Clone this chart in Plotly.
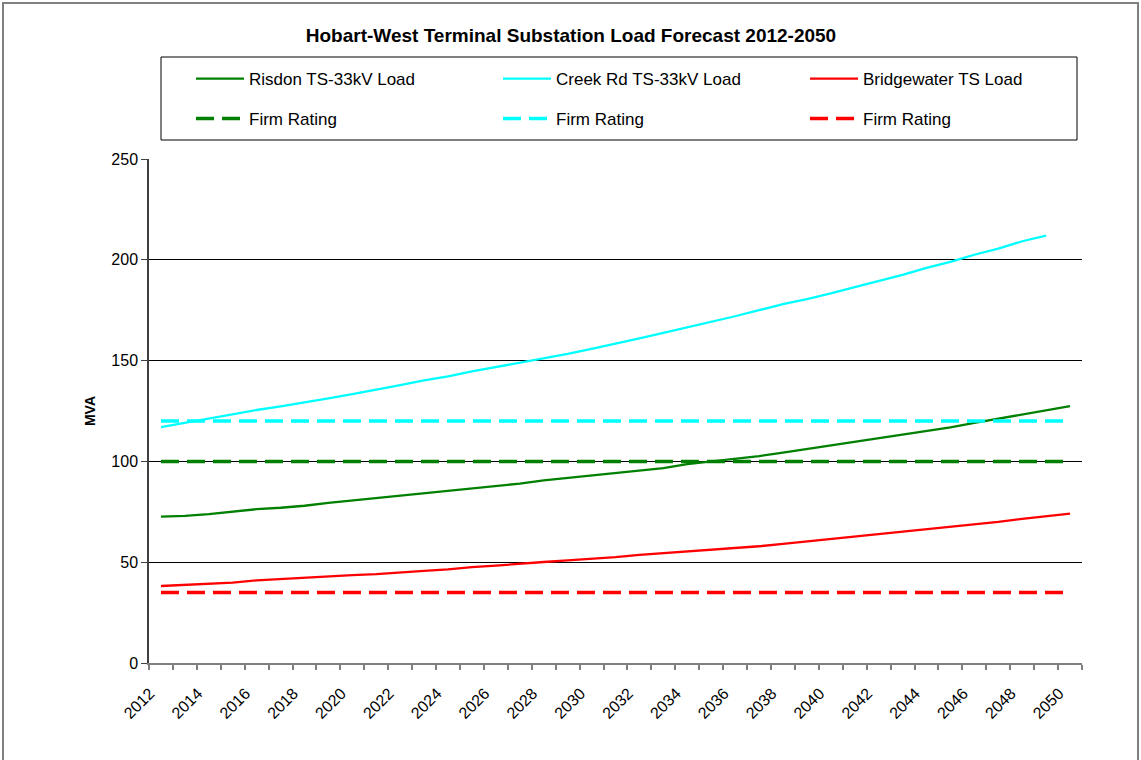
import plotly.graph_objects as go

# ---------------- data ----------------
years = list(range(2012, 2051))
tick_years = list(range(2012, 2051, 2))

risdon_load = [72.6, 73.0, 73.8, 75.0, 76.3, 77.0, 78.0, 79.4, 80.6, 81.8,
               82.9, 84.0, 85.3, 86.7, 87.9, 89.0, 90.6, 91.8, 93.0, 94.1,
               95.3, 96.7, 98.6, 99.9, 101.2, 102.6, 104.4, 106.2, 108.0, 109.9,
               111.8, 113.5, 115.2, 116.9, 119.1, 121.2, 123.4, 125.5, 127.4]

creek_load = [117.0, 119.2, 121.3, 123.3, 125.5, 127.3, 129.2, 131.3, 133.4, 135.5,
              137.8, 140.2, 142.2, 144.6, 146.8, 148.7, 151.0, 153.3, 155.8, 158.3,
              161.0, 163.8, 166.5, 169.0, 172.0, 175.0, 178.0, 180.5, 183.3, 186.5,
              189.4, 192.5, 196.0, 199.0, 202.5, 205.5, 209.2, 212.0]

bridgewater_load = [38.2, 38.7, 39.3, 39.9, 41.0, 41.7, 42.4, 43.0, 43.6, 44.1,
                    45.0, 45.7, 46.4, 47.6, 48.3, 49.3, 50.1, 50.9, 51.6, 52.5,
                    53.6, 54.4, 55.2, 56.1, 57.0, 57.9, 59.1, 60.3, 61.6, 62.7,
                    63.9, 65.0, 66.2, 67.4, 68.7, 70.0, 71.5, 72.8, 74.1]

risdon_firm = 100
creek_firm = 120
bridgewater_firm = 35

load_names = ["Risdon TS-33kV Load", "Creek Rd TS-33kV Load", "Bridgewater TS Load"]
firm_name = "Firm Rating"
colors = ["#008000", "#00FFFF", "#FF0000"]

# ---------------- layout helpers ----------------
W, H = 1141, 760
L, R, T, B = 149, 59, 159, 97
PW, PH = W - L - R, H - T - B


def px(x):
    return (x - L) / PW


def py(y):
    return (H - B - y) / PH


FONT = "Liberation Sans, Arial, sans-serif"

fig = go.Figure()

loads = [risdon_load, creek_load, bridgewater_load]
firms = [risdon_firm, creek_firm, bridgewater_firm]

for name, vals, col in zip(load_names, loads, colors):
    fig.add_trace(go.Scatter(
        x=years[:len(vals)], y=vals, name=name, mode="lines",
        line=dict(color=col, width=2.3), legend="legend"))

for firm, col in zip(firms, colors):
    fig.add_trace(go.Scatter(
        x=years, y=[firm] * len(years), name=firm_name, mode="lines",
        line=dict(color=col, width=3.5, dash="18px,8px"), legend="legend2"))

legend_common = dict(orientation="h", x=px(191), xanchor="left", yanchor="middle",
                     entrywidth=244, entrywidthmode="pixels", itemwidth=48,
                     font=dict(family=FONT, size=17, color="black"),
                     bgcolor="rgba(0,0,0,0)", traceorder="normal")

fig.update_layout(
    width=W, height=H,
    margin=dict(l=L, r=R, t=T, b=B, autoexpand=False),
    paper_bgcolor="white", plot_bgcolor="white",
    font=dict(family=FONT, size=16, color="black"),
    title=dict(text="Hobart-West Terminal Substation Load Forecast 2012-2050",
               font=dict(family=FONT, size=19, weight="bold", color="black"),
               x=571 / W, xanchor="center", xref="container",
               y=1 - 35 / H, yanchor="middle", yref="container"),
    showlegend=True,
    legend=dict(y=py(79), **legend_common),
    legend2=dict(y=py(119), **legend_common),
    xaxis=dict(range=[2011.5, 2050.5], tickmode="array", tickvals=tick_years,
               ticktext=[str(y) for y in tick_years], tickangle=-45,
               ticks="", showgrid=False, zeroline=False,
               showline=True, linecolor="#808080", linewidth=1.5,
               ticklabelstandoff=13, ticklabelshift=-11,
               tickfont=dict(family=FONT, size=16, color="black"),
               minor=dict(ticks="outside", tickmode="linear", tick0=2011.5, dtick=1,
                          ticklen=5, tickcolor="#808080", tickwidth=1.5, showgrid=False)),
    yaxis=dict(range=[0, 250], tickmode="linear", tick0=0, dtick=50,
               showgrid=True, gridcolor="black", gridwidth=1, zeroline=False,
               showline=True, linecolor="#404040", linewidth=1.5,
               ticks="outside", ticklen=6, tickcolor="#404040",
               tickfont=dict(family=FONT, size=16, color="black"),
               title=dict(text="MVA", standoff=12,
                          font=dict(family=FONT, size=14, weight="bold", color="black"))),
    shapes=[
        dict(type="rect", xref="paper", yref="paper",
             x0=px(3), x1=px(1138), y0=py(770), y1=py(3),
             line=dict(color="#808080", width=2), fillcolor="rgba(0,0,0,0)", layer="below"),
        dict(type="rect", xref="paper", yref="paper",
             x0=px(161), x1=px(1077), y0=py(140), y1=py(57),
             line=dict(color="black", width=1), fillcolor="rgba(0,0,0,0)"),
    ],
)

fig.write_html("out.html")
